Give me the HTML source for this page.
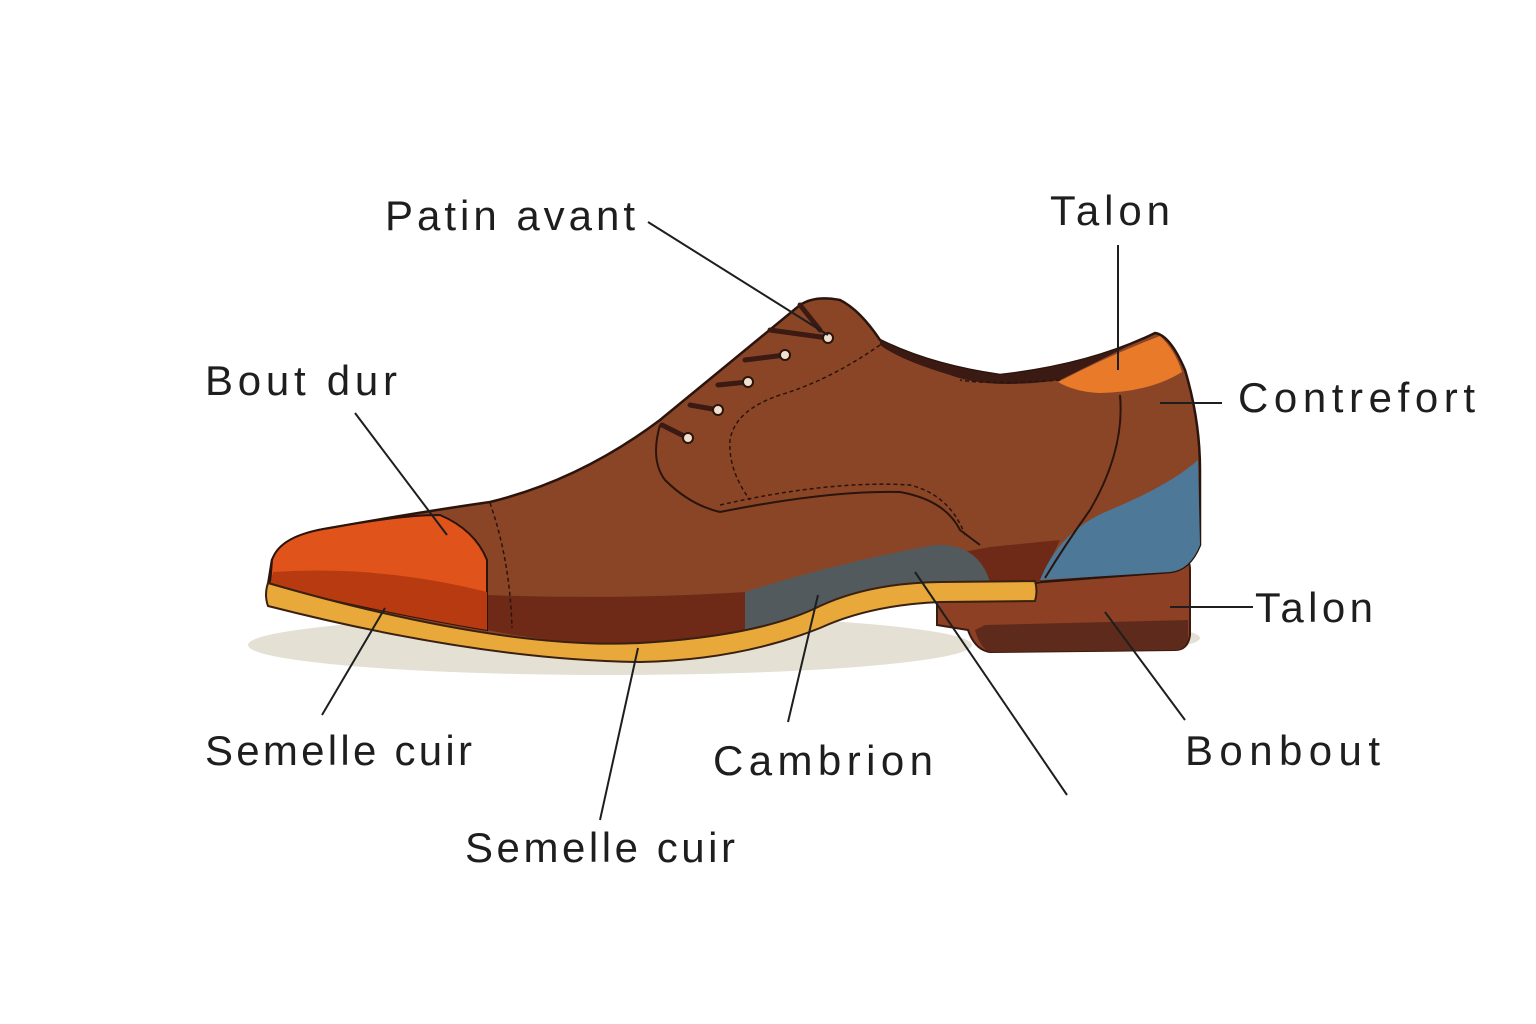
<!DOCTYPE html>
<html><head><meta charset="utf-8"><style>
html,body{margin:0;padding:0;background:#fff}
svg{display:block}
text{font-family:"Liberation Sans",sans-serif;font-size:42px;fill:#1e1e1e}
</style></head><body>
<svg width="1536" height="1024" viewBox="0 0 1536 1024" xmlns="http://www.w3.org/2000/svg">
<rect width="1536" height="1024" fill="#fff"/>
<ellipse cx="610" cy="645" rx="362" ry="30" fill="#e4e0d4"/>
<ellipse cx="1100" cy="638" rx="100" ry="14" fill="#e4e0d4"/>
<!-- heel block -->
<path d="M937,600 L985,560 L1185,558 Q1190,560 1190,570 L1190,635 Q1188,650 1175,650 L990,652 Q975,650 968,630 L937,625 Z" fill="#8e4024" stroke="#3a1a10" stroke-width="2"/>
<path d="M985,625 L1188,620 L1188,638 Q1186,650 1175,650 L990,652 Q980,648 975,630 Z" fill="#5e2a1c"/>
<!-- main upper -->
<path d="M272,560 Q285,535 330,528 Q420,512 490,502 Q580,480 660,420 L800,305 Q815,295 840,300 Q860,310 880,340 Q930,365 1000,375 Q1090,365 1155,333 Q1170,335 1185,370 Q1200,420 1200,470 L1200,545 Q1190,570 1170,572 L1040,582 L1035,583 L940,584 Q870,585 820,607 Q760,637 640,645 Q500,650 268,585 Z" fill="#8a4527" stroke="#2a140c" stroke-width="2.5"/>
<!-- inner collar dark -->
<path d="M880,340 Q930,365 1000,375 Q1090,365 1155,333 Q1120,350 1060,380 Q990,390 950,375 Q900,360 880,345 Z" fill="#3a1a12"/>
<!-- lower dark band -->
<path d="M487,595 Q620,600 745,592 L990,547 L1060,540 L1040,582 L940,584 Q870,585 820,607 Q780,626 745,633 Q700,641 640,644 Q560,645 487,630 Z" fill="#6e2a16"/>
<!-- gray cambrion -->
<path d="M745,592 Q840,562 935,545 Q978,543 990,582 L940,584 Q870,585 820,607 Q780,626 745,633 Z" fill="#525a5e"/>
<!-- blue counter -->
<path d="M1040,580 Q1060,530 1110,510 Q1170,485 1198,460 L1200,545 Q1190,570 1170,572 Z" fill="#4e7898"/>
<!-- orange collar -->
<path d="M1058,382 Q1110,355 1160,336 Q1175,350 1182,372 Q1150,392 1100,393 Q1075,392 1058,382 Z" fill="#e87a2a"/>
<!-- counter seam -->
<path d="M1120,395 Q1125,450 1090,510 Q1065,545 1045,578" fill="none" stroke="#2a140c" stroke-width="2"/>
<!-- quarter outline -->
<path d="M660,425 Q650,460 665,480 Q690,505 720,512 Q830,490 900,492 Q945,500 960,530 L980,545" fill="none" stroke="#2a140c" stroke-width="2"/>
<path d="M880,345 Q830,380 780,395 Q735,410 730,440 Q728,470 750,500" fill="none" stroke="#2a140c" stroke-width="1.5" stroke-dasharray="4,3"/>
<path d="M720,505 Q830,480 910,485 Q950,495 965,535" fill="none" stroke="#2a140c" stroke-width="1.5" stroke-dasharray="4,3"/>
<path d="M1060,380 Q990,385 960,380" fill="none" stroke="#2a140c" stroke-width="1.5" stroke-dasharray="4,3"/>
<path d="M490,503 Q510,560 512,628" fill="none" stroke="#2a140c" stroke-width="1.5" stroke-dasharray="4,3"/>
<!-- toe cap -->
<path d="M272,560 Q280,535 330,528 Q400,515 440,515 Q475,530 487,560 L487,630 Q380,612 270,585 Z" fill="#e0531a" stroke="#2a140c" stroke-width="2"/>
<path d="M273,572 Q380,565 487,592 L487,630 Q380,612 270,585 Z" fill="#b83a10"/>
<!-- laces -->
<g stroke="#3a1a12" stroke-width="5" stroke-linecap="round" fill="none">
<line x1="662" y1="425" x2="688" y2="438"/><line x1="690" y1="405" x2="718" y2="410"/>
<line x1="718" y1="385" x2="748" y2="382"/><line x1="745" y1="360" x2="785" y2="355"/>
<line x1="770" y1="330" x2="828" y2="338"/><line x1="800" y1="305" x2="820" y2="330"/>
</g>
<g fill="#f0e0d0" stroke="#2a140c" stroke-width="2">
<circle cx="688" cy="438" r="5"/><circle cx="718" cy="410" r="5"/><circle cx="748" cy="382" r="5"/><circle cx="785" cy="355" r="5"/><circle cx="828" cy="338" r="5"/>
</g>
<!-- sole -->
<path d="M268,583 Q500,650 640,643 Q760,636 820,606 Q870,583 940,582 L1035,581 Q1038,591 1035,601 L940,602 Q870,605 820,628 Q740,660 640,662 Q480,660 268,606 Q264,595 268,583 Z" fill="#e8a83a" stroke="#3a2010" stroke-width="2"/>
<!-- leader lines -->
<g stroke="#1e1e1e" stroke-width="2" fill="none">
<line x1="648" y1="222" x2="828" y2="335"/>
<line x1="1118" y1="245" x2="1118" y2="370"/>
<line x1="355" y1="413" x2="447" y2="535"/>
<line x1="1222" y1="403" x2="1160" y2="403"/>
<line x1="1253" y1="607" x2="1170" y2="607"/>
<line x1="322" y1="715" x2="385" y2="608"/>
<line x1="600" y1="820" x2="638" y2="648"/>
<line x1="788" y1="722" x2="818" y2="595"/>
<line x1="1067" y1="795" x2="915" y2="572"/>
<line x1="1185" y1="720" x2="1105" y2="612"/>
</g>
<text x="385" y="230" textLength="250" lengthAdjust="spacing">Patin avant</text>
<text x="1050" y="225" textLength="120" lengthAdjust="spacing">Talon</text>
<text x="205" y="395" textLength="192" lengthAdjust="spacing">Bout dur</text>
<text x="1238" y="412" textLength="237" lengthAdjust="spacing">Contrefort</text>
<text x="1255" y="622" textLength="118" lengthAdjust="spacing">Talon</text>
<text x="205" y="765" textLength="267" lengthAdjust="spacing">Semelle cuir</text>
<text x="713" y="775" textLength="220" lengthAdjust="spacing">Cambrion</text>
<text x="1185" y="765" textLength="195" lengthAdjust="spacing">Bonbout</text>
<text x="465" y="862" textLength="270" lengthAdjust="spacing">Semelle cuir</text>
</svg>
</body></html>
